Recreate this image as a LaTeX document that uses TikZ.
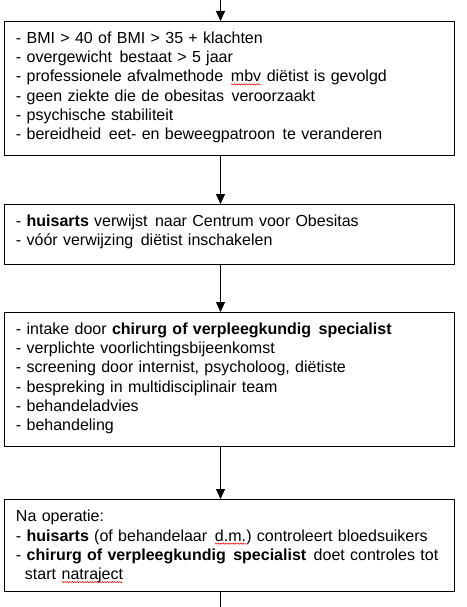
\documentclass[tikz,border=0pt]{standalone}
\usepackage{fontspec}
\setmainfont{Liberation Sans}
\usetikzlibrary{arrows.meta,decorations.pathmorphing}
\newcommand\spellwave[1]{\tikz[baseline=(w.base)]{\node[inner sep=0pt,outer sep=0pt](w){#1};
  \draw[red, line width=0.5pt, decorate, decoration={snake, amplitude=0.6pt, segment length=2.5pt}]
    ([yshift=-2.5pt]w.base west) -- ([yshift=-2.5pt]w.base east);}}
\newcommand\dsp{\hspace{7.5pt}}
\tikzset{
  box/.style={draw=black, line width=1pt, rectangle, inner sep=0pt, minimum width=450.3pt},
  txt/.style={anchor=north west, inner sep=0pt, outer sep=0pt, text width=440pt, align=left,
    font=\fontsize{16}{19.2}\selectfont},
  arr/.style={line width=1pt, -{Triangle[length=10pt,width=9pt]}},
  plain/.style={line width=1pt}
}
\begin{document}
\begin{tikzpicture}[x=1pt,y=-1pt]
\useasboundingbox (0,0) rectangle (466,607);
\coordinate (top) at (220.5,0);
\coordinate (bot) at (220.5,607);
\node[box, minimum height=134pt] (b1) at (229.65,88.5) {};
\node[box, minimum height=60pt] (b2) at (229.65,234.5) {};
\node[box, minimum height=134.2pt] (b3) at (229.65,379.6) {};
\node[box, minimum height=91.8pt] (b4) at (229.65,545.4) {};
\node[txt] (t1) at ([shift={(12,9)}]b1.north west) {\strut- BMI > 40 of BMI > 35 + klachten\\
\strut- overgewicht\dsp bestaat > 5 jaar\\
\strut- professionele afvalmethode\dsp\spellwave{mbv} diëtist is gevolgd\\
\strut- geen ziekte die de obesitas\dsp veroorzaakt\\
\strut- psychische stabiliteit\\
\strut- bereidheid\dsp eet- en beweegpatroon\dsp te veranderen};
\node[txt] (t2) at ([shift={(12,9)}]b2.north west) {\strut- \textbf{huisarts} verwijst\dsp naar Centrum voor Obesitas\\
\strut- vóór verwijzing\dsp diëtist inschakelen};
\node[txt] (t3) at ([shift={(12,9)}]b3.north west) {\strut- intake door \textbf{chirurg of verpleegkundig\dsp specialist}\\
\strut- verplichte voorlichtingsbijeenkomst\\
\strut- screening door internist, psycholoog, diëtiste\\
\strut- bespreking in multidisciplinair team\\
\strut- behandeladvies\\
\strut- behandeling};
\node[txt] (t4) at ([shift={(12,9.5)}]b4.north west) {\strut Na operatie:\\
\strut- \textbf{huisarts} (of behandelaar\dsp\spellwave{d.m.}) controleert bloedsuikers\\
\strut- \textbf{chirurg of verpleegkundig\dsp specialist}\dsp doet controles tot\\
\strut\hspace*{9pt}start \spellwave{natraject}};
\draw[arr] (top) -- (b1.north -| top);
\draw[arr] (b1.south -| top) -- (b2.north -| top);
\draw[arr] (b2.south -| top) -- (b3.north -| top);
\draw[arr] (b3.south -| top) -- (b4.north -| top);
\draw[plain] (b4.south -| top) -- (bot);
\end{tikzpicture}
\end{document}
